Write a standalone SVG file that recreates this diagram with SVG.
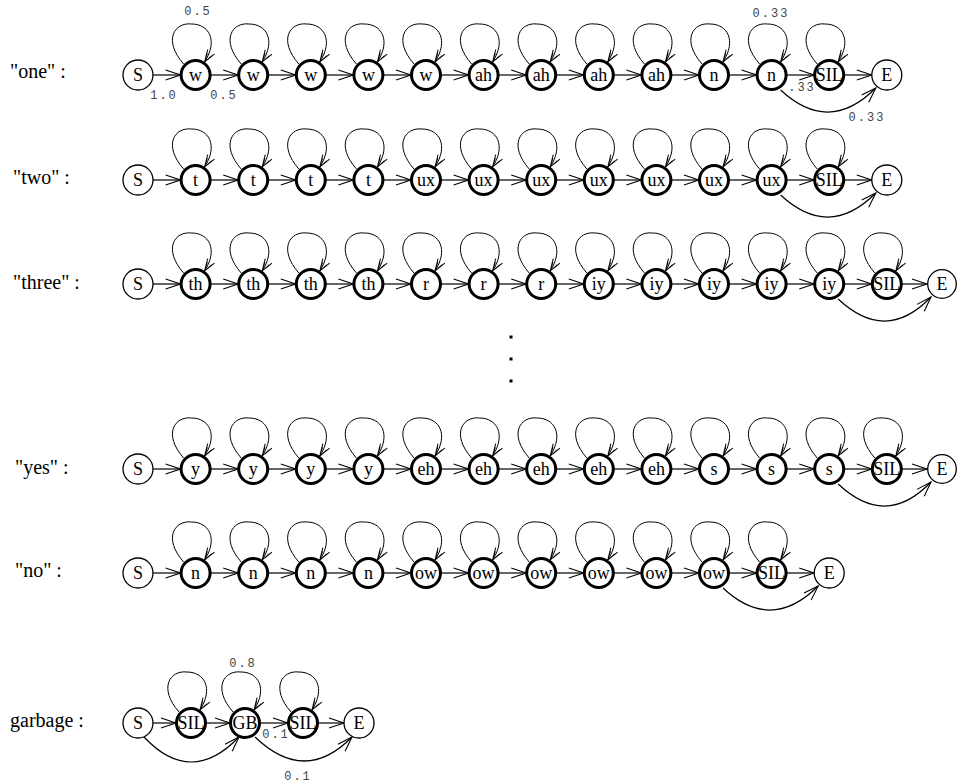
<svg xmlns="http://www.w3.org/2000/svg" xmlns:xlink="http://www.w3.org/1999/xlink" width="957" height="784" viewBox="0 0 957 784">
<style>
.n{fill:#fff;stroke:#000;stroke-width:3}
.s{fill:#fff;stroke:#000;stroke-width:1.3}
.t{font-family:"Liberation Serif","Times New Roman",serif;font-size:18px;text-anchor:middle;fill:#000}
.lb{font-family:"Liberation Serif","Times New Roman",serif;font-size:20px;fill:#000}
.p{font-family:"Liberation Mono","Courier New",monospace;font-size:12px;fill:#444;letter-spacing:2px;text-anchor:middle}
.e{fill:none;stroke:#000;stroke-width:1.2}
.lp{fill:none;stroke:#000;stroke-width:1}
</style>
<defs>
<marker id="ah" markerUnits="userSpaceOnUse" markerWidth="18" markerHeight="12" refX="15" refY="5.5" orient="auto" overflow="visible"><path d="M0,0.5 L15,5.5 L0,10.5" fill="none" stroke="#000" stroke-width="1.1"/></marker>
<marker id="al" markerUnits="userSpaceOnUse" markerWidth="14" markerHeight="12" refX="12" refY="4.5" orient="auto" overflow="visible"><path d="M0,0.5 L12,4.5 L0,8.5 M3,2 L12,4.5 L3,7" fill="none" stroke="#000" stroke-width="1"/></marker>
<path id="E" class="e" d="M15,0 H42.6" marker-end="url(#ah)"/>
<path id="L" class="lp" d="M-12,-11 C-33,-35 -21,-53 -4,-51 C13,-51 23,-35 9,-13" marker-end="url(#al)"/>
</defs>
<rect width="957" height="784" fill="#fff"/>
<g id="labels">
<text class="lb" x="10" y="78">"one" :</text>
<text class="lb" x="13" y="184">"two" :</text>
<text class="lb" x="13" y="289">"three" :</text>
<text class="lb" x="15" y="474">"yes" :</text>
<text class="lb" x="15" y="577">"no" :</text>
<text class="lb" x="10" y="727">garbage :</text>
<text class="p" x="198" y="15">0.5</text>
<text class="p" x="164" y="99">1.0</text>
<text class="p" x="224" y="99">0.5</text>
<text class="p" x="771" y="17">0.33</text>
<text class="p" x="802" y="91">.33</text>
<text class="p" x="867" y="121">0.33</text>
<text class="p" x="243" y="667">0.8</text>
<text class="p" x="276" y="738">0.1</text>
<text class="p" x="298" y="780">0.1</text>
</g>
<g id="dots" fill="#000">
<rect x="509.5" y="335.5" width="3" height="3"/>
<rect x="509.5" y="357.5" width="3" height="3"/>
<rect x="509.5" y="379.5" width="3" height="3"/>
</g>
<g id="connectors">
<use href="#E" x="138" y="75"/><use href="#E" x="195.6" y="75"/><use href="#E" x="253.2" y="75"/><use href="#E" x="310.8" y="75"/><use href="#E" x="368.4" y="75"/><use href="#E" x="426" y="75"/><use href="#E" x="483.6" y="75"/><use href="#E" x="541.2" y="75"/><use href="#E" x="598.8" y="75"/><use href="#E" x="656.4" y="75"/><use href="#E" x="714" y="75"/><use href="#E" x="771.6" y="75"/><use href="#E" x="829.2" y="75"/>
<use href="#L" x="195.6" y="75"/><use href="#L" x="253.2" y="75"/><use href="#L" x="310.8" y="75"/><use href="#L" x="368.4" y="75"/><use href="#L" x="426" y="75"/><use href="#L" x="483.6" y="75"/><use href="#L" x="541.2" y="75"/><use href="#L" x="598.8" y="75"/><use href="#L" x="656.4" y="75"/><use href="#L" x="714" y="75"/><use href="#L" x="771.6" y="75"/><use href="#L" x="829.2" y="75"/>
<path class="e" d="M780.6,90 Q829,135 875.8,88" marker-end="url(#ah)"/>
<use href="#E" x="138" y="180"/><use href="#E" x="195.6" y="180"/><use href="#E" x="253.2" y="180"/><use href="#E" x="310.8" y="180"/><use href="#E" x="368.4" y="180"/><use href="#E" x="426" y="180"/><use href="#E" x="483.6" y="180"/><use href="#E" x="541.2" y="180"/><use href="#E" x="598.8" y="180"/><use href="#E" x="656.4" y="180"/><use href="#E" x="714" y="180"/><use href="#E" x="771.6" y="180"/><use href="#E" x="829.2" y="180"/>
<use href="#L" x="195.6" y="180"/><use href="#L" x="253.2" y="180"/><use href="#L" x="310.8" y="180"/><use href="#L" x="368.4" y="180"/><use href="#L" x="426" y="180"/><use href="#L" x="483.6" y="180"/><use href="#L" x="541.2" y="180"/><use href="#L" x="598.8" y="180"/><use href="#L" x="656.4" y="180"/><use href="#L" x="714" y="180"/><use href="#L" x="771.6" y="180"/><use href="#L" x="829.2" y="180"/>
<path class="e" d="M780.6,195 Q829,240 875.8,193" marker-end="url(#ah)"/>
<use href="#E" x="138" y="284"/><use href="#E" x="195.6" y="284"/><use href="#E" x="253.2" y="284"/><use href="#E" x="310.8" y="284"/><use href="#E" x="368.4" y="284"/><use href="#E" x="426" y="284"/><use href="#E" x="483.6" y="284"/><use href="#E" x="541.2" y="284"/><use href="#E" x="598.8" y="284"/><use href="#E" x="656.4" y="284"/><use href="#E" x="714" y="284"/><use href="#E" x="771.6" y="284"/><use href="#E" x="829.2" y="284"/>
<path class="e" d="M901.8,284 H927" marker-end="url(#ah)"/>
<use href="#L" x="195.6" y="284"/><use href="#L" x="253.2" y="284"/><use href="#L" x="310.8" y="284"/><use href="#L" x="368.4" y="284"/><use href="#L" x="426" y="284"/><use href="#L" x="483.6" y="284"/><use href="#L" x="541.2" y="284"/><use href="#L" x="598.8" y="284"/><use href="#L" x="656.4" y="284"/><use href="#L" x="714" y="284"/><use href="#L" x="771.6" y="284"/><use href="#L" x="829.2" y="284"/><use href="#L" x="886.8" y="284"/>
<path class="e" d="M838.2,299 Q886,344 931,297" marker-end="url(#ah)"/>
<use href="#E" x="138" y="469"/><use href="#E" x="195.6" y="469"/><use href="#E" x="253.2" y="469"/><use href="#E" x="310.8" y="469"/><use href="#E" x="368.4" y="469"/><use href="#E" x="426" y="469"/><use href="#E" x="483.6" y="469"/><use href="#E" x="541.2" y="469"/><use href="#E" x="598.8" y="469"/><use href="#E" x="656.4" y="469"/><use href="#E" x="714" y="469"/><use href="#E" x="771.6" y="469"/><use href="#E" x="829.2" y="469"/>
<path class="e" d="M901.8,469 H927" marker-end="url(#ah)"/>
<use href="#L" x="195.6" y="469"/><use href="#L" x="253.2" y="469"/><use href="#L" x="310.8" y="469"/><use href="#L" x="368.4" y="469"/><use href="#L" x="426" y="469"/><use href="#L" x="483.6" y="469"/><use href="#L" x="541.2" y="469"/><use href="#L" x="598.8" y="469"/><use href="#L" x="656.4" y="469"/><use href="#L" x="714" y="469"/><use href="#L" x="771.6" y="469"/><use href="#L" x="829.2" y="469"/><use href="#L" x="886.8" y="469"/>
<path class="e" d="M838.2,484 Q886,529 931,482" marker-end="url(#ah)"/>
<use href="#E" x="138" y="573"/><use href="#E" x="195.6" y="573"/><use href="#E" x="253.2" y="573"/><use href="#E" x="310.8" y="573"/><use href="#E" x="368.4" y="573"/><use href="#E" x="426" y="573"/><use href="#E" x="483.6" y="573"/><use href="#E" x="541.2" y="573"/><use href="#E" x="598.8" y="573"/><use href="#E" x="656.4" y="573"/><use href="#E" x="714" y="573"/><use href="#E" x="771.6" y="573"/>
<use href="#L" x="195.6" y="573"/><use href="#L" x="253.2" y="573"/><use href="#L" x="310.8" y="573"/><use href="#L" x="368.4" y="573"/><use href="#L" x="426" y="573"/><use href="#L" x="483.6" y="573"/><use href="#L" x="541.2" y="573"/><use href="#L" x="598.8" y="573"/><use href="#L" x="656.4" y="573"/><use href="#L" x="714" y="573"/><use href="#L" x="771.6" y="573"/>
<path class="e" d="M723,588 Q771,633 818.2,586" marker-end="url(#ah)"/>
<path class="e" d="M153,723 H176" marker-end="url(#ah)"/>
<path class="e" d="M206,723 H230" marker-end="url(#ah)"/>
<path class="e" d="M260,723 H288" marker-end="url(#ah)"/>
<path class="e" d="M318,723 H344" marker-end="url(#ah)"/>
<use href="#L" x="191" y="723"/><use href="#L" x="245" y="723"/><use href="#L" x="303" y="723"/>
<path class="e" d="M144,737 Q191,787 239,737" marker-end="url(#ah)"/>
<path class="e" d="M255,737 Q305,785 352,737" marker-end="url(#ah)"/>
</g>
<g id="row-one">
<g id="one-0"><circle class="s" cx="138" cy="75" r="15"/><text class="t" x="138" y="81">S</text></g>
<g id="one-1"><circle class="n" cx="195.6" cy="75" r="14.5"/><text class="t" x="195.6" y="81">w</text></g>
<g id="one-2"><circle class="n" cx="253.2" cy="75" r="14.5"/><text class="t" x="253.2" y="81">w</text></g>
<g id="one-3"><circle class="n" cx="310.8" cy="75" r="14.5"/><text class="t" x="310.8" y="81">w</text></g>
<g id="one-4"><circle class="n" cx="368.4" cy="75" r="14.5"/><text class="t" x="368.4" y="81">w</text></g>
<g id="one-5"><circle class="n" cx="426" cy="75" r="14.5"/><text class="t" x="426" y="81">w</text></g>
<g id="one-6"><circle class="n" cx="483.6" cy="75" r="14.5"/><text class="t" x="483.6" y="81">ah</text></g>
<g id="one-7"><circle class="n" cx="541.2" cy="75" r="14.5"/><text class="t" x="541.2" y="81">ah</text></g>
<g id="one-8"><circle class="n" cx="598.8" cy="75" r="14.5"/><text class="t" x="598.8" y="81">ah</text></g>
<g id="one-9"><circle class="n" cx="656.4" cy="75" r="14.5"/><text class="t" x="656.4" y="81">ah</text></g>
<g id="one-10"><circle class="n" cx="714" cy="75" r="14.5"/><text class="t" x="714" y="81">n</text></g>
<g id="one-11"><circle class="n" cx="771.6" cy="75" r="14.5"/><text class="t" x="771.6" y="81">n</text></g>
<g id="one-12"><circle class="n" cx="829.2" cy="75" r="14.5"/><text class="t" x="829.2" y="81">SIL</text></g>
<g id="one-13"><circle class="s" cx="886.8" cy="75" r="15"/><text class="t" x="886.8" y="81">E</text></g>
</g>
<g id="row-two">
<g id="two-0"><circle class="s" cx="138" cy="180" r="15"/><text class="t" x="138" y="186">S</text></g>
<g id="two-1"><circle class="n" cx="195.6" cy="180" r="14.5"/><text class="t" x="195.6" y="186">t</text></g>
<g id="two-2"><circle class="n" cx="253.2" cy="180" r="14.5"/><text class="t" x="253.2" y="186">t</text></g>
<g id="two-3"><circle class="n" cx="310.8" cy="180" r="14.5"/><text class="t" x="310.8" y="186">t</text></g>
<g id="two-4"><circle class="n" cx="368.4" cy="180" r="14.5"/><text class="t" x="368.4" y="186">t</text></g>
<g id="two-5"><circle class="n" cx="426" cy="180" r="14.5"/><text class="t" x="426" y="186">ux</text></g>
<g id="two-6"><circle class="n" cx="483.6" cy="180" r="14.5"/><text class="t" x="483.6" y="186">ux</text></g>
<g id="two-7"><circle class="n" cx="541.2" cy="180" r="14.5"/><text class="t" x="541.2" y="186">ux</text></g>
<g id="two-8"><circle class="n" cx="598.8" cy="180" r="14.5"/><text class="t" x="598.8" y="186">ux</text></g>
<g id="two-9"><circle class="n" cx="656.4" cy="180" r="14.5"/><text class="t" x="656.4" y="186">ux</text></g>
<g id="two-10"><circle class="n" cx="714" cy="180" r="14.5"/><text class="t" x="714" y="186">ux</text></g>
<g id="two-11"><circle class="n" cx="771.6" cy="180" r="14.5"/><text class="t" x="771.6" y="186">ux</text></g>
<g id="two-12"><circle class="n" cx="829.2" cy="180" r="14.5"/><text class="t" x="829.2" y="186">SIL</text></g>
<g id="two-13"><circle class="s" cx="886.8" cy="180" r="15"/><text class="t" x="886.8" y="186">E</text></g>
</g>
<g id="row-three">
<g id="three-0"><circle class="s" cx="138" cy="284" r="15"/><text class="t" x="138" y="290">S</text></g>
<g id="three-1"><circle class="n" cx="195.6" cy="284" r="14.5"/><text class="t" x="195.6" y="290">th</text></g>
<g id="three-2"><circle class="n" cx="253.2" cy="284" r="14.5"/><text class="t" x="253.2" y="290">th</text></g>
<g id="three-3"><circle class="n" cx="310.8" cy="284" r="14.5"/><text class="t" x="310.8" y="290">th</text></g>
<g id="three-4"><circle class="n" cx="368.4" cy="284" r="14.5"/><text class="t" x="368.4" y="290">th</text></g>
<g id="three-5"><circle class="n" cx="426" cy="284" r="14.5"/><text class="t" x="426" y="290">r</text></g>
<g id="three-6"><circle class="n" cx="483.6" cy="284" r="14.5"/><text class="t" x="483.6" y="290">r</text></g>
<g id="three-7"><circle class="n" cx="541.2" cy="284" r="14.5"/><text class="t" x="541.2" y="290">r</text></g>
<g id="three-8"><circle class="n" cx="598.8" cy="284" r="14.5"/><text class="t" x="598.8" y="290">iy</text></g>
<g id="three-9"><circle class="n" cx="656.4" cy="284" r="14.5"/><text class="t" x="656.4" y="290">iy</text></g>
<g id="three-10"><circle class="n" cx="714" cy="284" r="14.5"/><text class="t" x="714" y="290">iy</text></g>
<g id="three-11"><circle class="n" cx="771.6" cy="284" r="14.5"/><text class="t" x="771.6" y="290">iy</text></g>
<g id="three-12"><circle class="n" cx="829.2" cy="284" r="14.5"/><text class="t" x="829.2" y="290">iy</text></g>
<g id="three-13"><circle class="n" cx="886.8" cy="284" r="14.5"/><text class="t" x="886.8" y="290">SIL</text></g>
<g id="three-14"><circle class="s" cx="942" cy="284" r="14.3"/><text class="t" x="942" y="290">E</text></g>
</g>
<g id="row-yes">
<g id="yes-0"><circle class="s" cx="138" cy="469" r="15"/><text class="t" x="138" y="475">S</text></g>
<g id="yes-1"><circle class="n" cx="195.6" cy="469" r="14.5"/><text class="t" x="195.6" y="475">y</text></g>
<g id="yes-2"><circle class="n" cx="253.2" cy="469" r="14.5"/><text class="t" x="253.2" y="475">y</text></g>
<g id="yes-3"><circle class="n" cx="310.8" cy="469" r="14.5"/><text class="t" x="310.8" y="475">y</text></g>
<g id="yes-4"><circle class="n" cx="368.4" cy="469" r="14.5"/><text class="t" x="368.4" y="475">y</text></g>
<g id="yes-5"><circle class="n" cx="426" cy="469" r="14.5"/><text class="t" x="426" y="475">eh</text></g>
<g id="yes-6"><circle class="n" cx="483.6" cy="469" r="14.5"/><text class="t" x="483.6" y="475">eh</text></g>
<g id="yes-7"><circle class="n" cx="541.2" cy="469" r="14.5"/><text class="t" x="541.2" y="475">eh</text></g>
<g id="yes-8"><circle class="n" cx="598.8" cy="469" r="14.5"/><text class="t" x="598.8" y="475">eh</text></g>
<g id="yes-9"><circle class="n" cx="656.4" cy="469" r="14.5"/><text class="t" x="656.4" y="475">eh</text></g>
<g id="yes-10"><circle class="n" cx="714" cy="469" r="14.5"/><text class="t" x="714" y="475">s</text></g>
<g id="yes-11"><circle class="n" cx="771.6" cy="469" r="14.5"/><text class="t" x="771.6" y="475">s</text></g>
<g id="yes-12"><circle class="n" cx="829.2" cy="469" r="14.5"/><text class="t" x="829.2" y="475">s</text></g>
<g id="yes-13"><circle class="n" cx="886.8" cy="469" r="14.5"/><text class="t" x="886.8" y="475">SIL</text></g>
<g id="yes-14"><circle class="s" cx="942" cy="469" r="14.3"/><text class="t" x="942" y="475">E</text></g>
</g>
<g id="row-no">
<g id="no-0"><circle class="s" cx="138" cy="573" r="15"/><text class="t" x="138" y="579">S</text></g>
<g id="no-1"><circle class="n" cx="195.6" cy="573" r="14.5"/><text class="t" x="195.6" y="579">n</text></g>
<g id="no-2"><circle class="n" cx="253.2" cy="573" r="14.5"/><text class="t" x="253.2" y="579">n</text></g>
<g id="no-3"><circle class="n" cx="310.8" cy="573" r="14.5"/><text class="t" x="310.8" y="579">n</text></g>
<g id="no-4"><circle class="n" cx="368.4" cy="573" r="14.5"/><text class="t" x="368.4" y="579">n</text></g>
<g id="no-5"><circle class="n" cx="426" cy="573" r="14.5"/><text class="t" x="426" y="579">ow</text></g>
<g id="no-6"><circle class="n" cx="483.6" cy="573" r="14.5"/><text class="t" x="483.6" y="579">ow</text></g>
<g id="no-7"><circle class="n" cx="541.2" cy="573" r="14.5"/><text class="t" x="541.2" y="579">ow</text></g>
<g id="no-8"><circle class="n" cx="598.8" cy="573" r="14.5"/><text class="t" x="598.8" y="579">ow</text></g>
<g id="no-9"><circle class="n" cx="656.4" cy="573" r="14.5"/><text class="t" x="656.4" y="579">ow</text></g>
<g id="no-10"><circle class="n" cx="714" cy="573" r="14.5"/><text class="t" x="714" y="579">ow</text></g>
<g id="no-11"><circle class="n" cx="771.6" cy="573" r="14.5"/><text class="t" x="771.6" y="579">SIL</text></g>
<g id="no-12"><circle class="s" cx="829.2" cy="573" r="15"/><text class="t" x="829.2" y="579">E</text></g>
</g>
<g id="row-garbage">
<g id="g-0"><circle class="s" cx="138" cy="723" r="15"/><text class="t" x="138" y="729">S</text></g>
<g id="g-1"><circle class="n" cx="191" cy="723" r="14.5"/><text class="t" x="191" y="729">SIL</text></g>
<g id="g-2"><circle class="n" cx="245" cy="723" r="14.5"/><text class="t" x="245" y="729">GB</text></g>
<g id="g-3"><circle class="n" cx="303" cy="723" r="14.5"/><text class="t" x="303" y="729">SIL</text></g>
<g id="g-4"><circle class="s" cx="359" cy="723" r="15"/><text class="t" x="359" y="729">E</text></g>
</g>
</svg>
